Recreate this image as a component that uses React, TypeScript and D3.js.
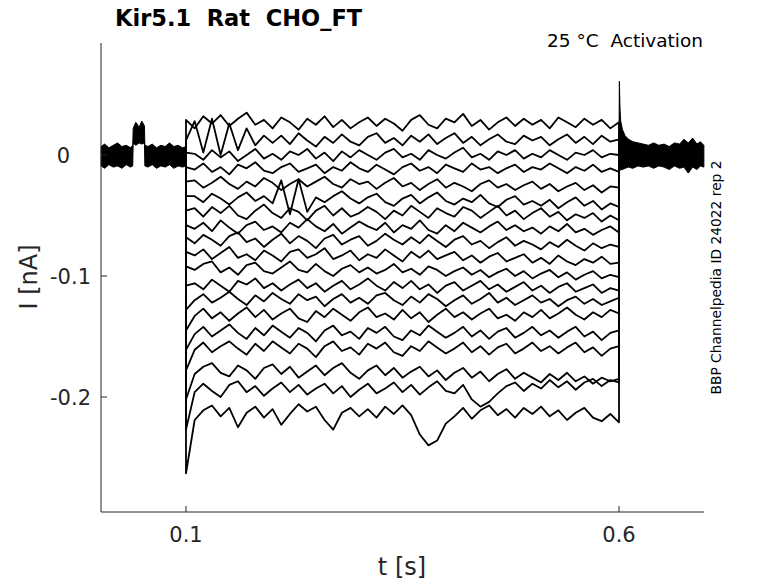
import * as d3 from "d3";

// time grid of the pulse (s): onset at 0.1, then every 10 ms up to 0.6
const pulseT = [
  0.1, 0.11, 0.12, 0.13, 0.14, 0.15, 0.16, 0.17, 0.18, 0.19, 0.2,
  0.21, 0.22, 0.23, 0.24, 0.25, 0.26, 0.27, 0.28, 0.29, 0.3,
  0.31, 0.32, 0.33, 0.34, 0.35, 0.36, 0.37, 0.38, 0.39, 0.4,
  0.41, 0.42, 0.43, 0.44, 0.45, 0.46, 0.47, 0.48, 0.49, 0.5,
  0.51, 0.52, 0.53, 0.54, 0.55, 0.56, 0.57, 0.58, 0.59, 0.6,
];

// currents (nA) of each sweep during the pulse, top to bottom
const sweeps: number[][] = [
  [0.029,
    0.022, 0.032, 0.026, 0.033, 0.024, 0.030, 0.035, 0.025, 0.029, 0.022,
    0.031, 0.027, 0.021, 0.030, 0.025, 0.032, 0.023, 0.029, 0.022, 0.027,
    0.031, 0.024, 0.030, 0.026, 0.020, 0.029, 0.033, 0.025, 0.022, 0.030,
    0.027, 0.034, 0.024, 0.029, 0.021, 0.027, 0.031, 0.024, 0.030, 0.025,
    0.029, 0.022, 0.031, 0.027, 0.023, 0.030, 0.025, 0.029, 0.022, 0.027],
  [0.012,
    0.028, 0.002, 0.030, 0.000, 0.026, 0.004, 0.022, 0.008, 0.016, 0.010,
    0.016, 0.009, 0.018, 0.012, 0.007, 0.015, 0.010, 0.017, 0.011, 0.008,
    0.015, 0.018, 0.010, 0.014, 0.008, 0.016, 0.011, 0.017, 0.009, 0.014,
    0.018, 0.010, 0.015, 0.008, 0.013, 0.017, 0.011, 0.009, 0.016, 0.012,
    0.015, 0.008, 0.013, 0.017, 0.010, 0.015, 0.009, 0.016, 0.011, 0.013],
  [0.002,
    0.001, -0.004, 0.004, -0.002, 0.003, -0.005, 0.000, 0.005, -0.003, 0.001,
    -0.004, 0.003, 0.000, 0.005, -0.003, 0.002, -0.005, 0.003, -0.002, 0.004,
    0.000, -0.004, 0.002, 0.005, -0.002, 0.001, -0.004, 0.004, 0.000, -0.003,
    0.002, 0.006, -0.002, 0.001, -0.004, 0.003, 0.000, 0.004, -0.003, 0.001,
    -0.002, 0.004, 0.000, -0.004, 0.002, 0.000, 0.004, -0.002, 0.001, 0.000],
  [-0.010,
    -0.012, -0.007, -0.014, -0.010, -0.016, -0.008, -0.011, -0.006, -0.013, -0.015,
    -0.010, -0.007, -0.014, -0.011, -0.008, -0.015, -0.010, -0.013, -0.006, -0.011,
    -0.014, -0.008, -0.012, -0.016, -0.010, -0.007, -0.013, -0.010, -0.015, -0.008,
    -0.011, -0.014, -0.007, -0.012, -0.010, -0.015, -0.011, -0.008, -0.014, -0.010,
    -0.012, -0.007, -0.011, -0.015, -0.010, -0.013, -0.008, -0.014, -0.011, -0.014],
  [-0.022,
    -0.021, -0.027, -0.023, -0.018, -0.024, -0.028, -0.022, -0.026, -0.019, -0.023,
    -0.029, -0.024, -0.020, -0.026, -0.022, -0.018, -0.024, -0.027, -0.020, -0.024,
    -0.022, -0.028, -0.023, -0.019, -0.026, -0.023, -0.029, -0.024, -0.020, -0.027,
    -0.023, -0.026, -0.030, -0.024, -0.021, -0.027, -0.024, -0.029, -0.025, -0.022,
    -0.028, -0.024, -0.030, -0.026, -0.023, -0.029, -0.025, -0.031, -0.026, -0.027],
  [-0.034,
    -0.034, -0.039, -0.032, -0.036, -0.041, -0.035, -0.031, -0.038, -0.034, -0.040,
    -0.021, -0.049, -0.020, -0.047, -0.035, -0.039, -0.034, -0.030, -0.036, -0.040,
    -0.035, -0.032, -0.039, -0.042, -0.036, -0.033, -0.040, -0.035, -0.031, -0.038,
    -0.041, -0.036, -0.039, -0.033, -0.040, -0.043, -0.037, -0.034, -0.041, -0.038,
    -0.042, -0.037, -0.044, -0.039, -0.035, -0.042, -0.038, -0.045, -0.040, -0.043],
  [-0.046,
    -0.044, -0.051, -0.043, -0.048, -0.042, -0.050, -0.053, -0.046, -0.041, -0.048,
    -0.052, -0.044, -0.047, -0.054, -0.046, -0.042, -0.050, -0.044, -0.051, -0.048,
    -0.043, -0.047, -0.053, -0.046, -0.050, -0.042, -0.047, -0.052, -0.044, -0.048,
    -0.051, -0.043, -0.046, -0.052, -0.047, -0.042, -0.050, -0.046, -0.053, -0.048,
    -0.044, -0.051, -0.047, -0.054, -0.049, -0.052, -0.048, -0.055, -0.050, -0.054],
  [-0.058,
    -0.061, -0.056, -0.063, -0.054, -0.060, -0.065, -0.058, -0.055, -0.062, -0.059,
    -0.064, -0.056, -0.060, -0.053, -0.059, -0.063, -0.057, -0.065, -0.060, -0.055,
    -0.059, -0.062, -0.056, -0.064, -0.058, -0.061, -0.054, -0.062, -0.065, -0.058,
    -0.063, -0.056, -0.060, -0.064, -0.059, -0.055, -0.062, -0.058, -0.063, -0.060,
    -0.065, -0.059, -0.063, -0.057, -0.064, -0.061, -0.066, -0.062, -0.059, -0.064],
  [-0.068,
    -0.073, -0.066, -0.070, -0.075, -0.067, -0.064, -0.072, -0.069, -0.076, -0.070,
    -0.065, -0.073, -0.067, -0.071, -0.077, -0.069, -0.066, -0.074, -0.070, -0.067,
    -0.075, -0.071, -0.065, -0.070, -0.074, -0.068, -0.073, -0.066, -0.071, -0.076,
    -0.070, -0.067, -0.074, -0.071, -0.077, -0.072, -0.068, -0.075, -0.071, -0.074,
    -0.078, -0.072, -0.076, -0.070, -0.075, -0.079, -0.073, -0.077, -0.074, -0.076],
  [-0.080,
    -0.083, -0.078, -0.086, -0.081, -0.076, -0.085, -0.082, -0.087, -0.079, -0.083,
    -0.088, -0.080, -0.078, -0.085, -0.082, -0.077, -0.086, -0.083, -0.079, -0.087,
    -0.082, -0.085, -0.078, -0.083, -0.088, -0.080, -0.085, -0.079, -0.086, -0.083,
    -0.080, -0.087, -0.083, -0.089, -0.084, -0.081, -0.088, -0.085, -0.082, -0.089,
    -0.085, -0.090, -0.083, -0.088, -0.091, -0.086, -0.089, -0.084, -0.090, -0.089],
  [-0.092,
    -0.095, -0.090, -0.088, -0.097, -0.093, -0.099, -0.091, -0.089, -0.096, -0.098,
    -0.093, -0.088, -0.095, -0.097, -0.090, -0.096, -0.100, -0.094, -0.091, -0.097,
    -0.093, -0.098, -0.095, -0.090, -0.097, -0.094, -0.099, -0.092, -0.095, -0.100,
    -0.096, -0.093, -0.099, -0.095, -0.101, -0.097, -0.094, -0.100, -0.096, -0.102,
    -0.098, -0.095, -0.101, -0.097, -0.103, -0.099, -0.096, -0.102, -0.099, -0.101],
  [-0.108,
    -0.106, -0.111, -0.103, -0.108, -0.113, -0.104, -0.107, -0.102, -0.110, -0.106,
    -0.112, -0.107, -0.103, -0.110, -0.106, -0.113, -0.108, -0.104, -0.111, -0.107,
    -0.102, -0.108, -0.112, -0.105, -0.110, -0.104, -0.111, -0.107, -0.114, -0.108,
    -0.105, -0.112, -0.108, -0.104, -0.111, -0.107, -0.113, -0.109, -0.105, -0.112,
    -0.108, -0.114, -0.109, -0.106, -0.113, -0.110, -0.107, -0.114, -0.110, -0.112],
  [-0.128,
    -0.120, -0.115, -0.122, -0.118, -0.113, -0.119, -0.124, -0.116, -0.121, -0.114,
    -0.119, -0.123, -0.115, -0.120, -0.117, -0.125, -0.119, -0.115, -0.122, -0.118,
    -0.123, -0.116, -0.114, -0.120, -0.124, -0.117, -0.122, -0.115, -0.119, -0.125,
    -0.120, -0.116, -0.123, -0.119, -0.114, -0.122, -0.118, -0.124, -0.120, -0.116,
    -0.122, -0.119, -0.125, -0.120, -0.117, -0.123, -0.119, -0.124, -0.121, -0.118],
  [-0.145,
    -0.133, -0.127, -0.135, -0.130, -0.137, -0.131, -0.126, -0.134, -0.128, -0.136,
    -0.131, -0.127, -0.135, -0.138, -0.129, -0.134, -0.127, -0.132, -0.137, -0.130,
    -0.126, -0.134, -0.131, -0.136, -0.128, -0.135, -0.130, -0.138, -0.132, -0.127,
    -0.134, -0.130, -0.136, -0.131, -0.127, -0.135, -0.132, -0.137, -0.130, -0.134,
    -0.128, -0.135, -0.131, -0.126, -0.132, -0.136, -0.130, -0.134, -0.128, -0.131],
  [-0.161,
    -0.148, -0.142, -0.150, -0.145, -0.140, -0.147, -0.152, -0.143, -0.149, -0.141,
    -0.146, -0.151, -0.143, -0.147, -0.154, -0.145, -0.141, -0.149, -0.146, -0.152,
    -0.143, -0.147, -0.142, -0.150, -0.153, -0.145, -0.149, -0.141, -0.146, -0.151,
    -0.147, -0.142, -0.150, -0.145, -0.152, -0.146, -0.143, -0.151, -0.147, -0.142,
    -0.149, -0.145, -0.151, -0.146, -0.142, -0.150, -0.146, -0.153, -0.147, -0.145],
  [-0.178,
    -0.161, -0.155, -0.163, -0.158, -0.154, -0.160, -0.165, -0.156, -0.162, -0.154,
    -0.159, -0.164, -0.156, -0.160, -0.167, -0.158, -0.154, -0.162, -0.159, -0.165,
    -0.156, -0.160, -0.155, -0.163, -0.166, -0.158, -0.162, -0.154, -0.159, -0.164,
    -0.160, -0.155, -0.163, -0.158, -0.165, -0.159, -0.156, -0.164, -0.160, -0.155,
    -0.162, -0.158, -0.164, -0.159, -0.155, -0.163, -0.159, -0.166, -0.160, -0.158],
  [-0.202,
    -0.181, -0.175, -0.172, -0.180, -0.183, -0.174, -0.178, -0.185, -0.176, -0.173,
    -0.181, -0.175, -0.184, -0.179, -0.174, -0.182, -0.176, -0.172, -0.180, -0.185,
    -0.178, -0.174, -0.182, -0.176, -0.184, -0.179, -0.175, -0.183, -0.178, -0.186,
    -0.180, -0.176, -0.184, -0.179, -0.187, -0.181, -0.177, -0.185, -0.180, -0.184,
    -0.188, -0.181, -0.186, -0.180, -0.187, -0.183, -0.189, -0.184, -0.187, -0.185],
  [-0.227,
    -0.196, -0.189, -0.195, -0.200, -0.190, -0.187, -0.196, -0.191, -0.199, -0.193,
    -0.188, -0.196, -0.190, -0.198, -0.193, -0.189, -0.197, -0.191, -0.200, -0.194,
    -0.189, -0.197, -0.193, -0.188, -0.196, -0.190, -0.198, -0.192, -0.187, -0.195,
    -0.197, -0.190, -0.202, -0.208, -0.204, -0.197, -0.191, -0.188, -0.195, -0.189,
    -0.193, -0.186, -0.192, -0.187, -0.194, -0.188, -0.185, -0.191, -0.186, -0.188],
  [-0.263,
    -0.219, -0.211, -0.207, -0.216, -0.209, -0.225, -0.213, -0.208, -0.217, -0.210,
    -0.223, -0.214, -0.206, -0.212, -0.208, -0.219, -0.227, -0.213, -0.209, -0.216,
    -0.210, -0.217, -0.208, -0.214, -0.207, -0.215, -0.231, -0.240, -0.236, -0.222,
    -0.216, -0.209, -0.218, -0.211, -0.207, -0.215, -0.210, -0.217, -0.209, -0.214,
    -0.208, -0.216, -0.211, -0.219, -0.213, -0.209, -0.217, -0.220, -0.214, -0.221],
];

// holding band before the pulse (all sweeps overlapped), with the small test blip
const preT = [0.002, 0.006, 0.011, 0.016, 0.021, 0.026, 0.031, 0.036, 0.0385, 0.039, 0.042, 0.046, 0.049, 0.052, 0.0525, 0.056, 0.061, 0.066, 0.071, 0.076, 0.081, 0.086, 0.091, 0.096, 0.1];
const preUpper = [0.007, 0.009, 0.006, 0.008, 0.010, 0.007, 0.008, 0.006, 0.008, 0.022, 0.027, 0.023, 0.028, 0.024, 0.008, 0.007, 0.009, 0.006, 0.008, 0.007, 0.010, 0.007, 0.008, 0.006, 0.007];
const preLower = [-0.009, -0.011, -0.008, -0.010, -0.009, -0.011, -0.008, -0.010, -0.009, 0.010, 0.008, 0.010, 0.009, 0.010, -0.009, -0.010, -0.008, -0.011, -0.009, -0.010, -0.008, -0.011, -0.009, -0.010, -0.009];

// holding band after the pulse, with the tail spike
const postT = [0.6, 0.6004, 0.6012, 0.602, 0.604, 0.607, 0.611, 0.616, 0.622, 0.628, 0.634, 0.64, 0.646, 0.652, 0.658, 0.664, 0.67, 0.675, 0.68, 0.685, 0.69, 0.694, 0.698];
const postUpper = [0.010, 0.061, 0.038, 0.028, 0.021, 0.016, 0.013, 0.011, 0.010, 0.009, 0.008, 0.010, 0.008, 0.009, 0.007, 0.010, 0.009, 0.013, 0.010, 0.014, 0.009, 0.011, 0.008];
const postLower = [-0.012, -0.013, -0.013, -0.012, -0.012, -0.011, -0.010, -0.011, -0.009, -0.010, -0.009, -0.011, -0.009, -0.010, -0.012, -0.009, -0.011, -0.010, -0.015, -0.010, -0.012, -0.009, -0.010];

const xTicks = [0.1, 0.6];
const yTicks = [0, -0.1, -0.2];

const W = 778;
const H = 583;
const font = "'DejaVu Sans', sans-serif";
const axisColor = "#262626";

export default function App() {
  const x = d3.scaleLinear().domain([0.00185, 0.69815]).range([101, 704]);
  const y = d3.scaleLinear().domain([-0.29504, 0.09256]).range([512, 43]);

  const line = d3
    .line<[number, number]>()
    .x((d) => x(d[0]))
    .y((d) => y(d[1]));

  const preArea = d3
    .area<number>()
    .x((t) => x(t))
    .y0((_, i) => y(preLower[i]))
    .y1((_, i) => y(preUpper[i]));
  const postArea = d3
    .area<number>()
    .x((t) => x(t))
    .y0((_, i) => y(postLower[i]))
    .y1((_, i) => y(postUpper[i]));

  // each sweep: step from holding at 0.1, pulse samples, step back at 0.6
  const sweepPaths = sweeps.map((vals) => {
    const pts: [number, number][] = [[pulseT[0], 0]];
    vals.forEach((v, i) => pts.push([pulseT[i], v]));
    pts.push([pulseT[pulseT.length - 1], 0]);
    return line(pts) || "";
  });

  return (
    <svg
      width={W}
      height={H}
      style={{ position: "absolute", left: 0, top: 0, background: "#fff" }}
      fontFamily={font}
    >
      <rect width={W} height={H} fill="#fff" />
      <path d={preArea(preT) || ""} fill="#000" stroke="#000" strokeWidth={1} />
      <path d={postArea(postT) || ""} fill="#000" stroke="#000" strokeWidth={1} />
      {sweepPaths.map((d, i) => (
        <path key={i} d={d} fill="none" stroke="#000" strokeWidth={1.8} strokeLinejoin="round" />
      ))}

      {/* axes */}
      <line x1={101} x2={101} y1={43} y2={512} stroke={axisColor} strokeWidth={1} />
      <line x1={101} x2={704} y1={512} y2={512} stroke={axisColor} strokeWidth={1} />
      {xTicks.map((t) => (
        <g key={t}>
          <line x1={x(t)} x2={x(t)} y1={512} y2={506} stroke={axisColor} />
          <text x={x(t)} y={542} textAnchor="middle" fontSize={21} fill={axisColor}>
            {String(t)}
          </text>
        </g>
      ))}
      {yTicks.map((v) => (
        <g key={v}>
          <line x1={101} x2={107} y1={y(v)} y2={y(v)} stroke={axisColor} />
          <text x={v === 0 ? 70 : 91} y={y(v) + 8} textAnchor="end" fontSize={21} fill={axisColor}>
            {String(v)}
          </text>
        </g>
      ))}

      <text x={402} y={575} textAnchor="middle" fontSize={24} fill={axisColor}>
        t [s]
      </text>
      <text transform="translate(37,277) rotate(-90)" textAnchor="middle" fontSize={24} fill={axisColor}>
        I [nA]
      </text>
      <text x={115} y={26} fontSize={22.5} fontWeight="bold" fill="#000" style={{ whiteSpace: "pre" }}>
        {"Kir5.1  Rat  CHO_FT"}
      </text>
      <text x={703} y={47} textAnchor="end" fontSize={18.5} fill="#000" style={{ whiteSpace: "pre" }}>
        {"25 °C  Activation"}
      </text>
      <text transform="translate(721,277.5) rotate(-90)" textAnchor="middle" fontSize={13.8} fill="#000">
        BBP Channelpedia ID 24022 rep 2
      </text>
    </svg>
  );
}
